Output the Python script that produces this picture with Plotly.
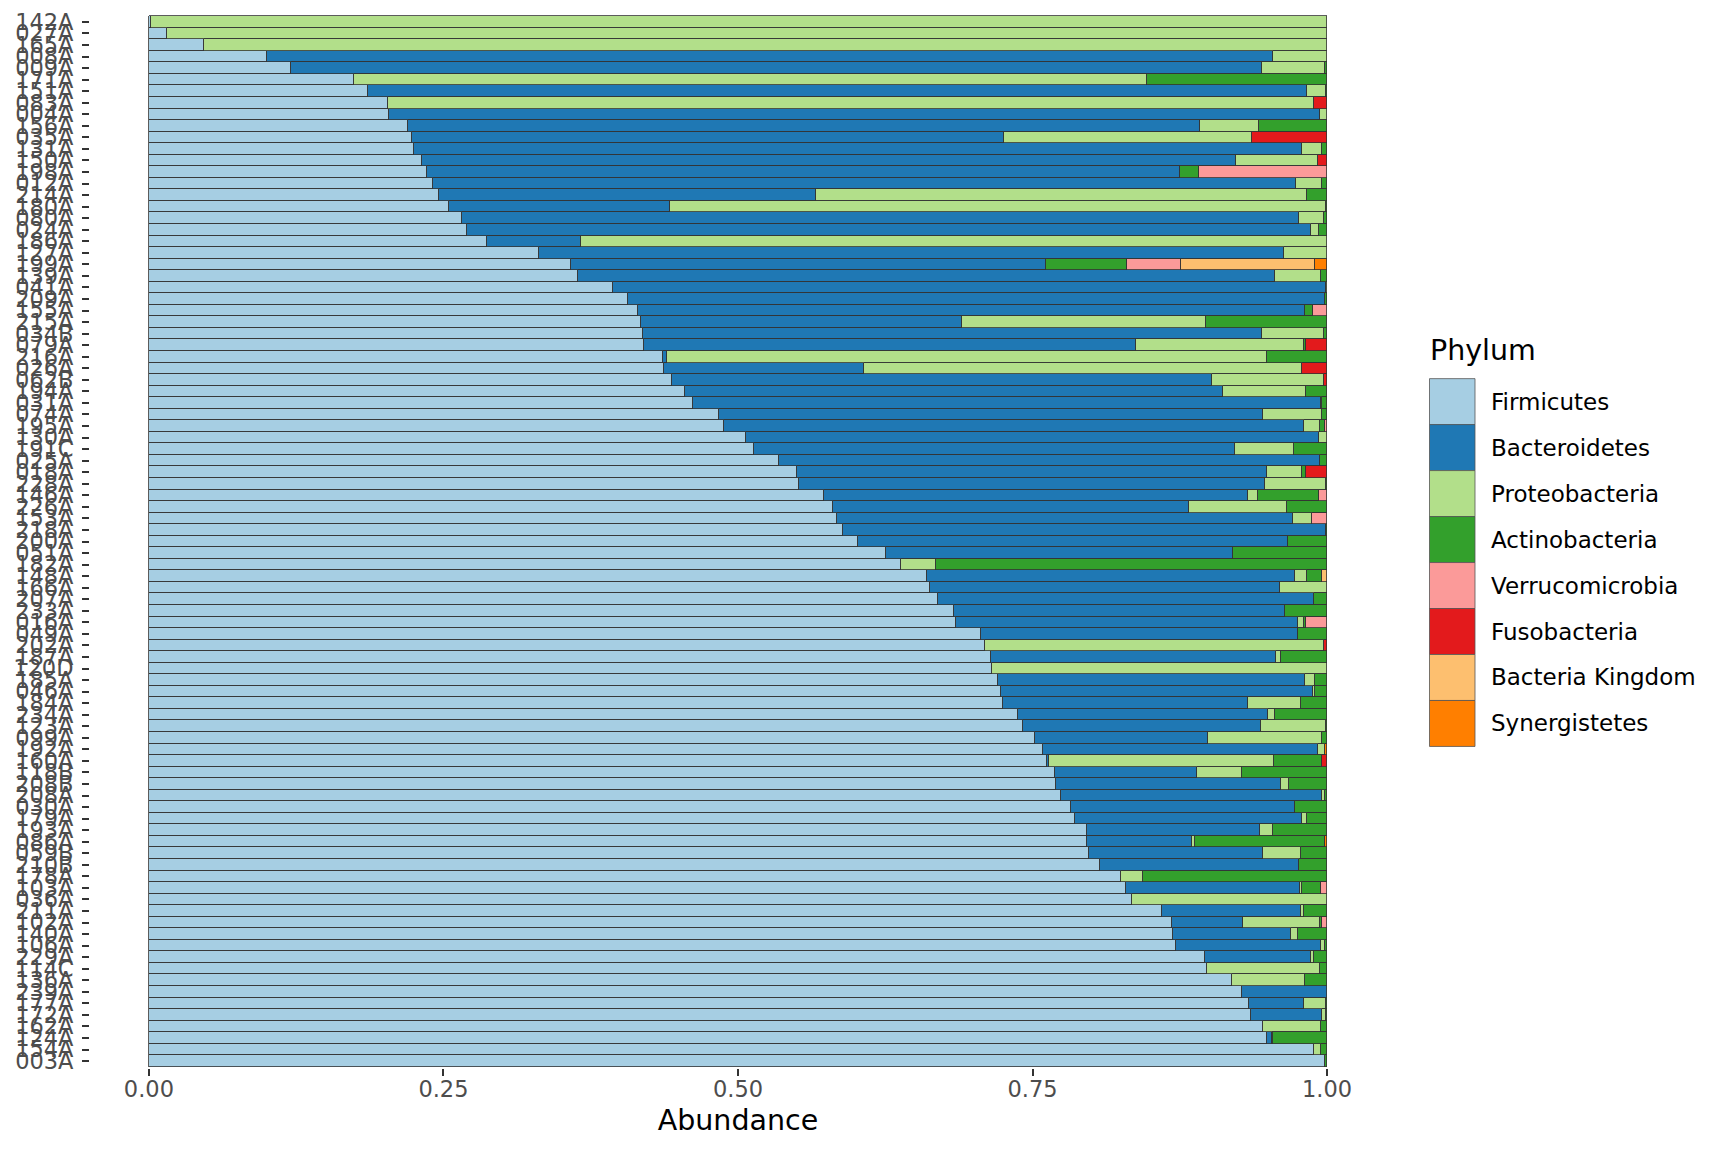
import plotly.graph_objects as go

# sample ids, top to bottom
samples = [
    '142A', '027A', '165A', '008A', '009A', '171A', '151A', '083A', '004A', '156A',
    '035A', '131A', '150A', '198A', '012A', '214A', '180A', '080A', '024A', '186A',
    '127A', '199A', '139A', '041A', '209A', '155A', '215A', '034B', '079A', '216A',
    '026A', '062B', '194A', '031A', '074A', '195A', '130A', '191C', '025A', '018A',
    '228A', '146A', '226A', '153A', '218A', '200A', '051A', '182A', '148A', '166A',
    '207A', '233A', '016A', '049A', '202A', '187A', '120D', '185A', '046A', '184A',
    '234A', '123A', '099A', '192A', '160A', '118B', '208B', '208A', '030A', '179A',
    '193A', '086A', '059B', '210B', '178A', '103A', '036A', '211A', '102A', '140A',
    '106A', '229A', '114C', '136A', '239A', '177A', '172A', '162A', '124A', '154A',
    '003A',
]

firmicutes = [
    .002, .015, .047, .100, .121, .174, .186, .203, .204, .220,
    .223, .225, .232, .236, .241, .246, .255, .266, .270, .287,
    .331, .358, .364, .394, .407, .415, .418, .419, .420, .436,
    .437, .444, .455, .462, .484, .488, .507, .514, .535, .550,
    .552, .573, .581, .584, .589, .602, .626, .638, .660, .663,
    .670, .683, .685, .706, .710, .715, .716, .721, .723, .725,
    .738, .742, .752, .759, .762, .769, .770, .774, .783, .786,
    .796, .796, .798, .807, .825, .829, .834, .860, .868, .869,
    .872, .896, .898, .919, .928, .934, .935, .946, .949, .989,
    .998,
]
bacteroidetes = [
    0, 0, 0, .854, .824, 0, .797, 0, .790, .672,
    .503, .754, .691, .639, .733, .320, .187, .710, .716, .080,
    .632, .403, .592, .605, .591, .566, .272, .526, .418, .004,
    .170, .458, .457, .533, .462, .492, .486, .408, .459, .399,
    .395, .360, .302, .387, .410, .365, .294, 0, .313, .297,
    .319, .281, .290, .269, 0, .242, 0, .260, .265, .208,
    .212, .202, .147, .233, .002, .121, .191, .222, .190, .193,
    .147, .089, .148, .169, 0, .148, 0, .118, .061, .100,
    .123, .090, 0, 0, .072, .046, .061, 0, .004, 0,
    0,
]
proteobacteria = [
    .998, .985, .953, .046, .053, .673, .016, .786, .006, .050,
    .210, .017, .069, 0, .022, .417, .557, .021, .007, .633,
    .037, 0, .039, .001, 0, 0, .207, .052, .142, .509,
    .372, .095, .070, .001, .050, .014, .007, .050, 0, .030,
    .052, .008, .083, .016, 0, 0, 0, .030, .010, .040,
    0, 0, .005, 0, .287, .004, .284, .009, .002, .045,
    .006, .055, .097, .006, .191, .038, .007, .002, 0, .004,
    .011, .003, .032, 0, .019, .002, .166, .002, .065, .006,
    .003, .003, .096, .062, 0, .019, .003, .049, .001, .006,
    0,
]
actinobacteria = [
    0, 0, 0, 0, .002, .153, .001, 0, 0, .058,
    0, .004, 0, .016, .004, .017, .001, .003, .007, 0,
    0, .069, .005, 0, .002, .007, .103, .003, .002, .051,
    0, 0, .018, .004, .004, .004, 0, .028, .006, .003,
    .001, .052, .034, 0, .001, .033, .080, .332, .013, 0,
    .011, .036, .002, .025, 0, .039, 0, .010, .010, .022,
    .044, .001, .004, 0, .041, .072, .032, .002, .027, .017,
    .046, .110, .022, .024, .156, .016, 0, .020, .002, .025,
    .002, .011, .006, .019, 0, .001, .001, .005, .046, .005,
    .002,
]
verrucomicrobia = [
    0, 0, 0, 0, 0, 0, 0, 0, 0, 0,
    0, 0, 0, .109, 0, 0, 0, 0, 0, 0,
    0, .046, 0, 0, 0, .012, 0, 0, 0, 0,
    0, 0, 0, 0, 0, .002, 0, 0, 0, 0,
    0, .007, 0, .013, 0, 0, 0, 0, 0, 0,
    0, 0, .018, 0, 0, 0, 0, 0, 0, 0,
    0, 0, 0, 0, 0, 0, 0, 0, 0, 0,
    0, 0, 0, 0, 0, .005, 0, 0, .004, 0,
    0, 0, 0, 0, 0, 0, 0, 0, 0, 0,
    0,
]
fusobacteria = [
    0, 0, 0, 0, 0, 0, 0, .011, 0, 0,
    .064, 0, .008, 0, 0, 0, 0, 0, 0, 0,
    0, 0, 0, 0, 0, 0, 0, 0, .018, 0,
    .021, .003, 0, 0, 0, 0, 0, 0, 0, .018,
    0, 0, 0, 0, 0, 0, 0, 0, 0, 0,
    0, 0, 0, 0, .003, 0, 0, 0, 0, 0,
    0, 0, 0, 0, .004, 0, 0, 0, 0, 0,
    0, 0, 0, 0, 0, 0, 0, 0, 0, 0,
    0, 0, 0, 0, 0, 0, 0, 0, 0, 0,
    0,
]
bacteria_kingdom = [
    0, 0, 0, 0, 0, 0, 0, 0, 0, 0,
    0, 0, 0, 0, 0, 0, 0, 0, 0, 0,
    0, .114, 0, 0, 0, 0, 0, 0, 0, 0,
    0, 0, 0, 0, 0, 0, 0, 0, 0, 0,
    0, 0, 0, 0, 0, 0, 0, 0, .004, 0,
    0, 0, 0, 0, 0, 0, 0, 0, 0, 0,
    0, 0, 0, 0, 0, 0, 0, 0, 0, 0,
    0, 0, 0, 0, 0, 0, 0, 0, 0, 0,
    0, 0, 0, 0, 0, 0, 0, 0, 0, 0,
    0,
]
synergistetes = [
    0, 0, 0, 0, 0, 0, 0, 0, 0, 0,
    0, 0, 0, 0, 0, 0, 0, 0, 0, 0,
    0, .010, 0, 0, 0, 0, 0, 0, 0, 0,
    0, 0, 0, 0, 0, 0, 0, 0, 0, 0,
    0, 0, 0, 0, 0, 0, 0, 0, 0, 0,
    0, 0, 0, 0, 0, 0, 0, 0, 0, 0,
    0, 0, 0, .002, 0, 0, 0, 0, 0, 0,
    0, .002, 0, 0, 0, 0, 0, 0, 0, 0,
    0, 0, 0, 0, 0, 0, 0, 0, 0, 0,
    0,
]

phyla = ['Firmicutes', 'Bacteroidetes', 'Proteobacteria', 'Actinobacteria',
         'Verrucomicrobia', 'Fusobacteria', 'Bacteria Kingdom', 'Synergistetes']
series = [firmicutes, bacteroidetes, proteobacteria, actinobacteria,
          verrucomicrobia, fusobacteria, bacteria_kingdom, synergistetes]
colors = ['#A6CEE3', '#1F78B4', '#B2DF8A', '#33A02C',
          '#FB9A99', '#E31A1C', '#FDBF6F', '#FF7F00']

FONT = 'DejaVu Sans'
OFF = 8                      # default body margin of the html page
W, H = 1728 - 2 * OFF, 1152 - 2 * OFF
L, R, T, B = 90, 1386, 14.5, 1068  # panel edges, page px


def px(x):
    return (x - L) / (R - L)


def py(y):
    return (B - y) / (B - T)


fig = go.Figure()
for name, vals, col in zip(phyla, series, colors):
    fig.add_trace(go.Bar(
        y=samples,
        x=[v if v > 0 else None for v in vals],
        name=name,
        orientation='h',
        marker=dict(color=col, line=dict(color='#333333', width=0.8)),
        showlegend=False,
    ))

fig.update_layout(
    width=W, height=H,
    barmode='stack', bargap=0,
    plot_bgcolor='white', paper_bgcolor='white',
    margin=dict(l=L - OFF, r=W - (R - OFF), t=T - OFF, b=H - (B - OFF), autoexpand=False),
    font=dict(family=FONT, color='#4D4D4D'),
    xaxis=dict(
        range=[-0.05, 1.05],
        tickvals=[0, 0.25, 0.5, 0.75, 1.0],
        ticktext=['0.00', '0.25', '0.50', '0.75', '1.00'],
        ticks='outside', ticklen=7, tickwidth=2, tickcolor='#333333',
        ticklabelstandoff=-6,
        tickfont=dict(size=22.5, color='#4D4D4D'),
        showgrid=False, zeroline=False, showline=False,
        title=dict(text='Abundance', font=dict(size=28.5, color='black'), standoff=9),
    ),
    yaxis=dict(
        type='category',
        categoryorder='array', categoryarray=samples,
        tickmode='array', tickvals=samples, ticktext=samples,
        range=[len(samples) - 0.4, -0.6],
        ticks='outside', ticklen=7, tickwidth=2, tickcolor='#333333',
        ticklabelstandoff=4,
        tickfont=dict(size=22.5, color='#4D4D4D'),
        showgrid=False, zeroline=False, showline=False,
    ),
)

# legend drawn by hand to get the large square keys
fig.add_annotation(
    x=px(1428), y=py(350), xref='paper', yref='paper',
    text='Phylum', showarrow=False, xanchor='left', yanchor='middle',
    font=dict(size=28.5, color='black', family=FONT),
)
key_h = 46
for i, (name, col) in enumerate(zip(phyla, colors)):
    top = 378.3 + i * key_h
    fig.add_shape(
        type='rect', xref='paper', yref='paper',
        x0=px(1429.5), x1=px(1475), y0=py(top + key_h), y1=py(top),
        fillcolor=col, line=dict(color='#555555', width=0.8),
    )
    fig.add_annotation(
        x=px(1489), y=py(top + key_h / 2), xref='paper', yref='paper',
        text=name, showarrow=False, xanchor='left', yanchor='middle',
        font=dict(size=23, color='black', family=FONT),
    )

fig.write_html("out.html")
